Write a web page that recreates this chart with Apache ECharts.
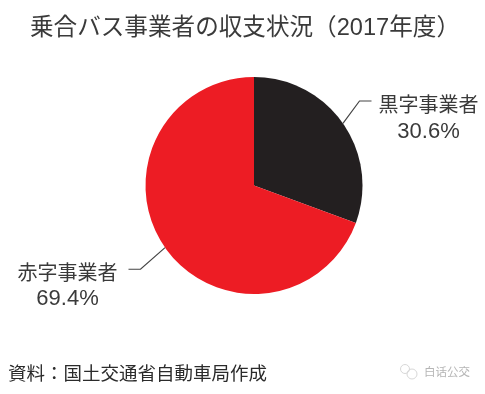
<!DOCTYPE html>
<html><head><meta charset="utf-8">
<style>html,body{margin:0;padding:0;background:#fff}#c{width:485px;height:394px}</style>
<script src="https://cdn.jsdelivr.net/npm/echarts@6/dist/echarts.min.js"></script></head>
<body><div id="c"></div>
<script>
const categories = ["黒字事業者", "赤字事業者"];
const values = [30.6, 69.4];
const colors = ["#231f20", "#ed1c24"];
const titleText = "乗合バス事業者の収支状況（2017年度）";
const sourceText = "資料：国土交通省自動車局作成";
const watermark = "白话公交";
const font = '"Liberation Sans", "Noto Sans CJK JP", sans-serif';
const chart = echarts.init(document.getElementById('c'), null, {renderer:'canvas'});
const txt = {fontFamily:font,color:'#3a3a3a',align:'center',lineHeight:25};
chart.setOption({
  animation:false,
  backgroundColor:'#fff',
  title:[
    {text:titleText,left:30,top:17,padding:0,textStyle:{fontFamily:font,fontSize:23.6,fontWeight:'normal',color:'#3a3a3a'}},
    {text:sourceText,left:8,top:366,padding:0,textStyle:{fontFamily:font,fontSize:18.5,fontWeight:'normal',color:'#2b2b2b'}},
    {text:watermark,left:424,top:367,padding:0,textStyle:{fontFamily:font,fontSize:11.5,fontWeight:'normal',color:'#b5b5b5'}}
  ],
  graphic:[
    {type:'circle',shape:{cx:405,cy:369,r:4.5},style:{fill:'none',stroke:'#d8d8d8',lineWidth:1}},
    {type:'circle',shape:{cx:412,cy:374,r:5},style:{fill:'none',stroke:'#d8d8d8',lineWidth:1}}
  ],
  series:[{
    type:'pie',
    center:[254,185.5],
    radius:[0,108.5],
    startAngle:90,
    clockwise:true,
    silent:true,
    data:categories.map((n,i)=>({name:n,value:values[i],itemStyle:{color:colors[i]}})),
    label:{show:true,overflow:'none',align:'center',
      formatter:p=>p.dataIndex===0
        ?"{s0| }\n{n0|"+p.name+"}\n{p|"+p.value+"%}"
        :"{s1| }\n{n1|"+p.name+"}\n{p|"+p.value+"%}",
      rich:{
        s0:{fontSize:1,lineHeight:68,align:'center'},
        s1:{fontSize:1,lineHeight:65,align:'center'},
        n0:{...txt,fontSize:20,padding:[0,7,0,7]},
        n1:{...txt,fontSize:20,padding:[0,11,0,11]},
        p:{...txt,fontSize:22}
      }},
    labelLine:{show:true,length:22,length2:12,smooth:false,lineStyle:{color:'#444',width:1.2}},
    labelLayout:p=>p.dataIndex===0?{x:428.5,y:26,align:'center',verticalAlign:'top'}:{x:67.5,y:196.5,align:'center',verticalAlign:'top'}
  }]
});
</script></body></html>
